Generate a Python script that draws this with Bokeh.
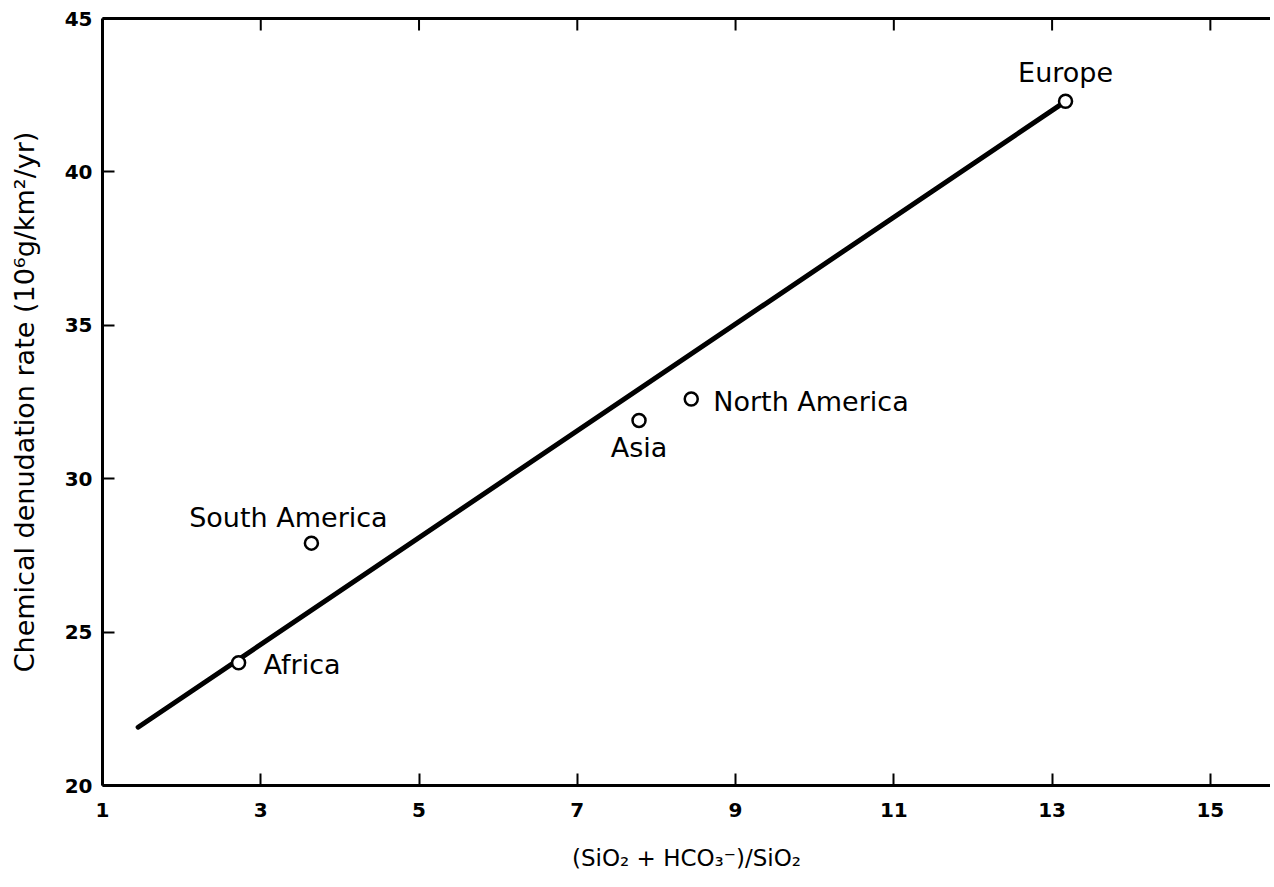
import math
from bokeh.plotting import figure
from bokeh.models import LinearAxis, FixedTicker, ColumnDataSource, Range1d
from bokeh.embed import file_html
from bokeh.resources import INLINE

# Data
regions = ["Europe", "North America", "Asia", "South America", "Africa"]
ratio = [13.17, 8.44, 7.78, 3.64, 2.72]
rate = [42.3, 32.6, 31.9, 27.9, 24.0]
fit_x = [1.45, 13.17]
fit_y = [21.9, 42.3]
x_ticks = [1, 3, 5, 7, 9, 11, 13, 15]
y_ticks = [20, 25, 30, 35, 40, 45]

# label placement (screen offsets in px), per region
lab_dx = [0, 22, 0, -23, 25]
lab_dy = [-29, 3, 27, -26, 2]
lab_align = ["center", "left", "center", "center", "left"]

FONT = "DejaVu Sans"
X_START, X_END = 1, 15.76
Y_START, Y_END = 20, 45

p = figure(width=1270, height=879, output_backend="svg", toolbar_location=None,
           x_range=Range1d(X_START, X_END), y_range=Range1d(Y_START, Y_END),
           x_axis_location=None, y_axis_location=None,
           min_border_left=102, min_border_right=0, min_border_top=18, min_border_bottom=94)
p.grid.visible = False
p.outline_line_color = None
p.background_fill_color = "white"
p.border_fill_color = "white"

def style(ax):
    ax.axis_line_color = "black"
    ax.axis_line_width = 3
    ax.major_tick_in = 12
    ax.major_tick_out = 0
    ax.major_tick_line_width = 2
    ax.major_tick_line_color = "black"
    ax.minor_tick_line_color = None
    ax.major_label_text_font = FONT
    ax.major_label_text_font_size = "20px"
    ax.major_label_text_font_style = "bold"
    ax.major_label_text_color = "black"
    ax.axis_label_text_font = FONT
    ax.axis_label_text_font_style = "normal"
    ax.axis_label_text_color = "black"

xb = LinearAxis(ticker=FixedTicker(ticks=x_ticks), axis_label="(SiO₂ + HCO₃⁻)/SiO₂")
style(xb)
xb.major_label_standoff = 17
xb.axis_label_text_font_size = "23px"
xb.axis_label_standoff = 25
p.add_layout(xb, "below")

# top frame line (no labels); its tick marks drawn as clipped dashes below
xt = LinearAxis(ticker=FixedTicker(ticks=[]))
style(xt)
p.add_layout(xt, "above")
p.scatter(x_ticks, [Y_END] * len(x_ticks), marker="dash", angle=math.pi / 2, size=24,
          line_color="black", line_width=2)

yl = LinearAxis(ticker=FixedTicker(ticks=y_ticks),
                axis_label="Chemical denudation rate (10⁶g/km²/yr)")
style(yl)
yl.major_label_standoff = 10
yl.axis_label_text_font_size = "27px"
yl.axis_label_standoff = 22
p.add_layout(yl, "left")

p.line(fit_x, fit_y, line_color="black", line_width=5, line_cap="round")

src = ColumnDataSource(dict(x=ratio, y=rate, name=regions, dx=lab_dx, dy=lab_dy, al=lab_align))
p.scatter("x", "y", source=src, size=13, marker="circle", fill_color="white",
          line_color="black", line_width=2.5)
p.text("x", "y", text="name", source=src, x_offset="dx", y_offset="dy", text_align="al",
       text_baseline="middle", text_font={"value": FONT}, text_font_size="27px",
       text_color="black")

open("out.html", "w").write(file_html(p, INLINE))
